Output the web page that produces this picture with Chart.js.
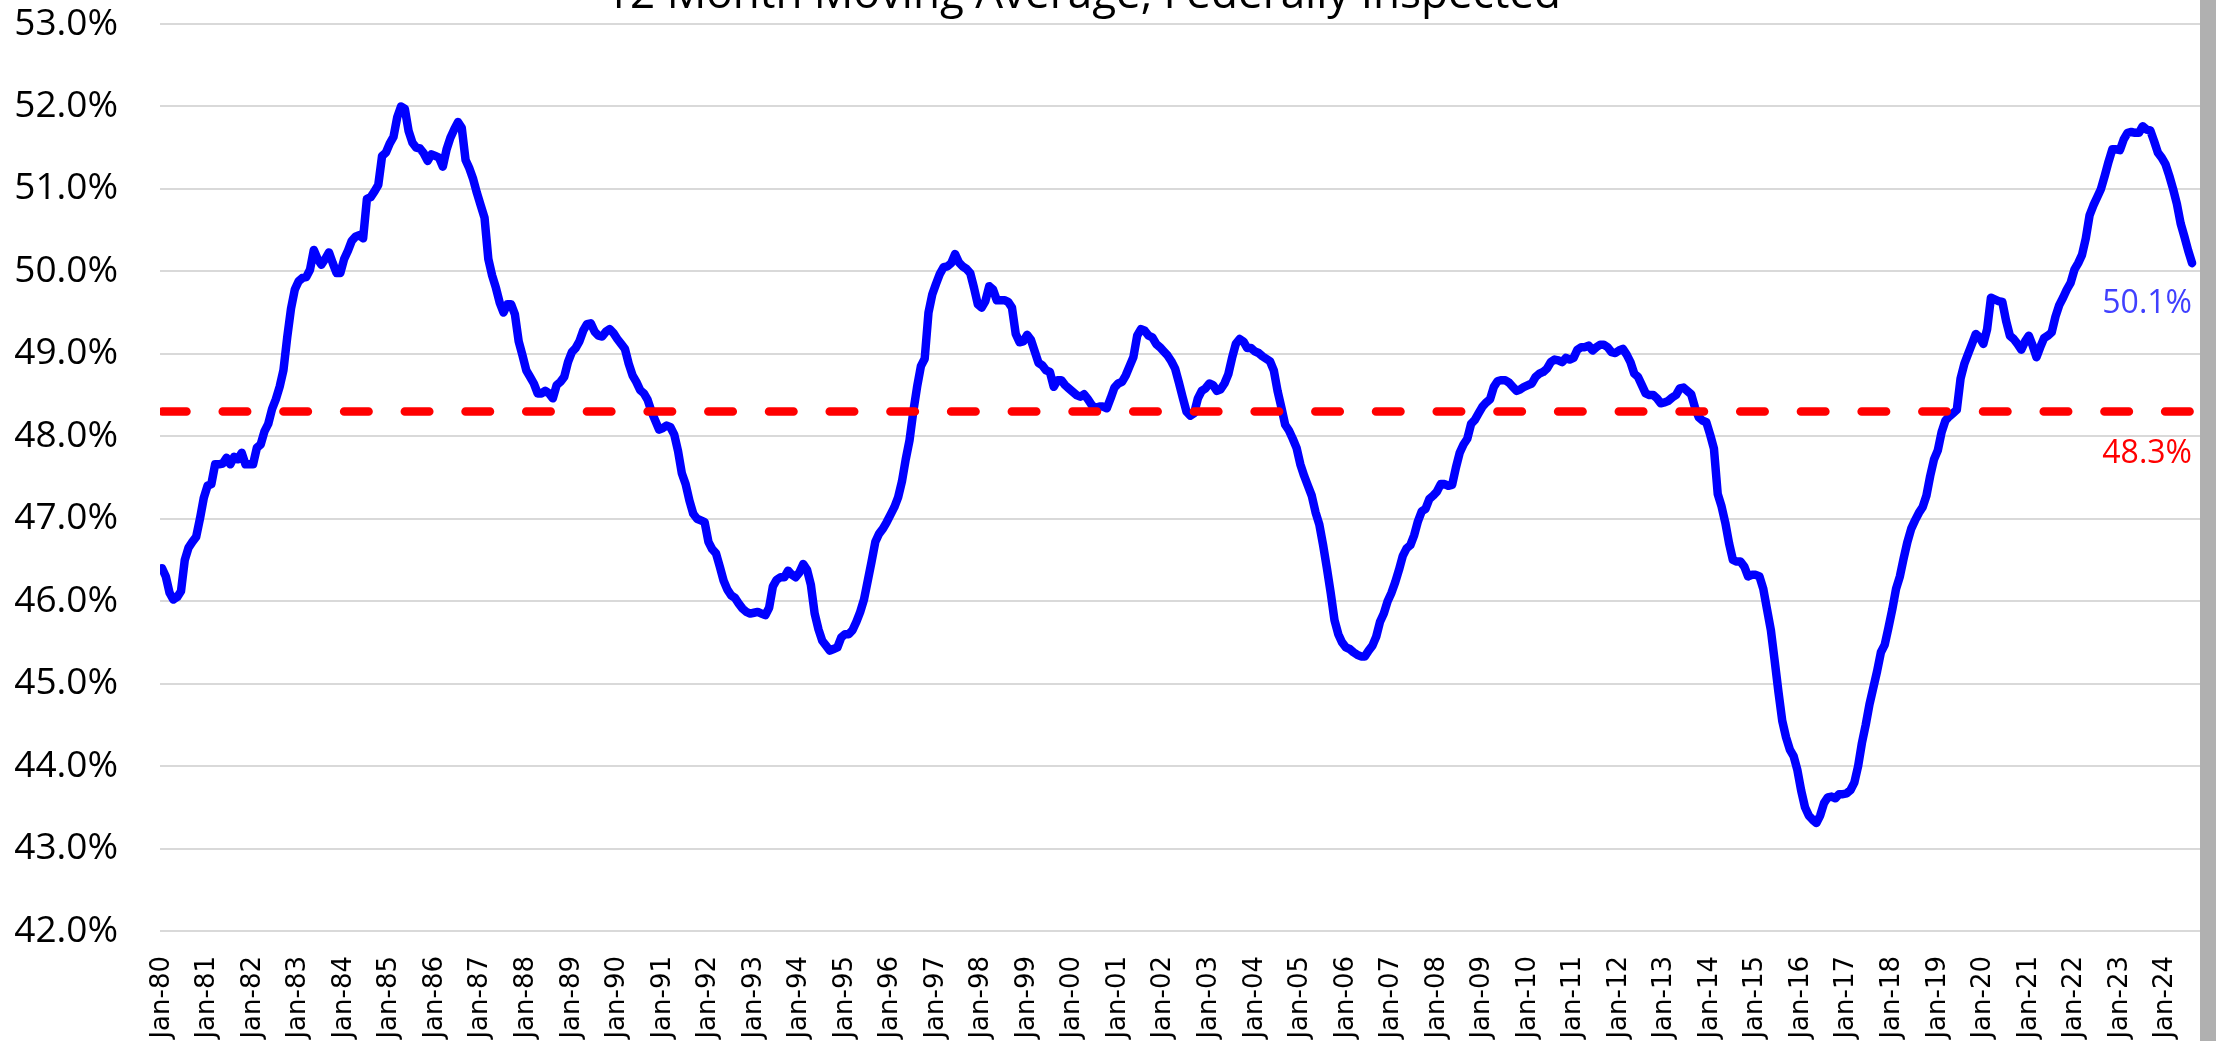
<!DOCTYPE html>
<html>
<head>
<meta charset="utf-8">
<script src="https://cdn.jsdelivr.net/npm/chart.js@4.4.1/dist/chart.umd.min.js"></script>
<style>
  html, body { margin: 0; padding: 0; background: #ffffff; overflow: hidden; }
  #wrap { position: absolute; left: 0; top: 0; width: 2200px; height: 1041px; }
  #edge { position: absolute; left: 2200px; top: 0; width: 16px; height: 1041px; background: #b0b0b0; }
</style>
</head>
<body>
<div id="wrap"><canvas id="chart" width="2200" height="1041"></canvas></div>
<div id="edge"></div>
<script>
// 12-month moving average share, monthly from Jan-1980 (percent)
const chartTitle = '12 Month Moving Average, Federally Inspected';

const tickLabels = [
  'Jan-80','Jan-81','Jan-82','Jan-83','Jan-84','Jan-85','Jan-86','Jan-87','Jan-88','Jan-89',
  'Jan-90','Jan-91','Jan-92','Jan-93','Jan-94','Jan-95','Jan-96','Jan-97','Jan-98','Jan-99',
  'Jan-00','Jan-01','Jan-02','Jan-03','Jan-04','Jan-05','Jan-06','Jan-07','Jan-08','Jan-09',
  'Jan-10','Jan-11','Jan-12','Jan-13','Jan-14','Jan-15','Jan-16','Jan-17','Jan-18','Jan-19',
  'Jan-20','Jan-21','Jan-22','Jan-23','Jan-24'
];

const share1980s = [
  46.40,46.30,46.10,46.02,46.05,46.12,46.50,46.65,46.72,46.78,47.00,47.25,
  47.40,47.42,47.66,47.66,47.67,47.74,47.66,47.75,47.72,47.80,47.66,47.66,
  47.66,47.86,47.90,48.06,48.15,48.33,48.45,48.60,48.80,49.20,49.55,49.78,
  49.88,49.92,49.93,50.02,50.26,50.15,50.08,50.15,50.23,50.10,49.98,49.98,
  50.15,50.25,50.37,50.42,50.44,50.40,50.88,50.90,50.97,51.05,51.40,51.44,
  51.55,51.63,51.87,52.00,51.97,51.70,51.56,51.50,51.49,51.43,51.34,51.42,
  51.40,51.38,51.27,51.48,51.62,51.72,51.81,51.74,51.35,51.25,51.12,50.95,
  50.80,50.65,50.15,49.95,49.80,49.62,49.50,49.60,49.60,49.48,49.15,48.98,
  48.80,48.72,48.64,48.52,48.52,48.55,48.52,48.46,48.62,48.66,48.72,48.90,
  49.02,49.07,49.15,49.28,49.36,49.37,49.27,49.22,49.21,49.27,49.30,49.25
];

const share1990s = [
  49.18,49.12,49.06,48.88,48.74,48.66,48.56,48.52,48.44,48.30,48.19,48.08,
  48.10,48.13,48.11,48.02,47.82,47.55,47.42,47.22,47.06,47.00,46.98,46.96,
  46.72,46.63,46.58,46.42,46.25,46.14,46.07,46.04,45.97,45.91,45.87,45.85,
  45.86,45.87,45.85,45.83,45.92,46.18,46.26,46.29,46.29,46.37,46.32,46.29,
  46.35,46.45,46.38,46.20,45.85,45.66,45.52,45.46,45.40,45.42,45.44,45.56,
  45.60,45.60,45.65,45.75,45.87,46.02,46.25,46.48,46.72,46.82,46.88,46.96,
  47.05,47.14,47.26,47.45,47.72,47.95,48.30,48.60,48.85,48.94,49.50,49.72,
  49.85,49.97,50.05,50.06,50.10,50.21,50.11,50.06,50.03,49.98,49.80,49.60,
  49.56,49.64,49.82,49.78,49.65,49.65,49.65,49.63,49.56,49.24,49.14,49.15,
  49.23,49.17,49.03,48.89,48.86,48.80,48.78,48.60,48.68,48.68,48.62,48.58
];

const share2000s = [
  48.54,48.50,48.48,48.51,48.45,48.38,48.34,48.36,48.36,48.34,48.46,48.59,
  48.64,48.66,48.74,48.85,48.96,49.22,49.30,49.28,49.22,49.20,49.12,49.08,
  49.03,48.98,48.91,48.82,48.65,48.47,48.30,48.25,48.28,48.46,48.55,48.58,
  48.64,48.62,48.55,48.57,48.64,48.75,48.95,49.12,49.18,49.15,49.07,49.07,
  49.03,49.01,48.97,48.94,48.91,48.80,48.55,48.35,48.14,48.07,47.97,47.86,
  47.66,47.52,47.40,47.28,47.08,46.93,46.68,46.40,46.10,45.77,45.60,45.50,
  45.44,45.42,45.38,45.35,45.33,45.33,45.40,45.46,45.57,45.75,45.85,46.00,
  46.10,46.23,46.38,46.55,46.64,46.68,46.80,46.97,47.09,47.12,47.24,47.28,
  47.33,47.42,47.42,47.40,47.41,47.62,47.80,47.90,47.97,48.15,48.20,48.28,
  48.36,48.41,48.45,48.60,48.67,48.68,48.68,48.65,48.60,48.55,48.57,48.60
];

const share2010s = [
  48.62,48.64,48.72,48.76,48.78,48.82,48.90,48.93,48.92,48.90,48.95,48.93,
  48.95,49.05,49.08,49.08,49.10,49.04,49.08,49.11,49.11,49.08,49.02,49.01,
  49.04,49.06,48.99,48.90,48.76,48.72,48.62,48.52,48.50,48.50,48.46,48.40,
  48.41,48.43,48.47,48.50,48.58,48.59,48.55,48.51,48.35,48.23,48.19,48.17,
  48.02,47.85,47.30,47.15,46.95,46.70,46.50,46.48,46.48,46.42,46.30,46.32,
  46.32,46.30,46.15,45.90,45.65,45.28,44.90,44.55,44.35,44.20,44.12,43.95,
  43.70,43.50,43.40,43.35,43.31,43.40,43.55,43.62,43.63,43.61,43.66,43.66,
  43.67,43.71,43.80,44.00,44.28,44.50,44.75,44.95,45.15,45.38,45.47,45.68,
  45.90,46.15,46.30,46.52,46.72,46.88,46.98,47.07,47.14,47.28,47.52,47.72,
  47.83,48.05,48.19,48.24,48.28,48.32,48.70,48.88,49.00,49.12,49.24,49.20
];

const share2020s = [
  49.12,49.30,49.68,49.66,49.64,49.63,49.40,49.22,49.18,49.12,49.05,49.15,
  49.22,49.10,48.96,49.08,49.19,49.22,49.26,49.45,49.59,49.68,49.78,49.86,
  50.02,50.10,50.20,50.40,50.68,50.80,50.90,51.00,51.16,51.33,51.48,51.48,
  51.47,51.60,51.68,51.69,51.68,51.68,51.76,51.72,51.71,51.58,51.44,51.38,
  51.30,51.16,51.00,50.82,50.58,50.42,50.25,50.10
];

// long-run average share
const averageShare = 48.3;

const series = [...share1980s, ...share1990s, ...share2000s, ...share2010s, ...share2020s];
const lastIndex = series.length - 1;
const latestShare = series[lastIndex];
const sharePoints = series.map((v, i) => ({ x: i, y: v }));
const averagePoints = [{ x: 0, y: averageShare }, { x: lastIndex, y: averageShare }];

// title sits at the very top edge of the page, partly above it
const titlePlugin = {
  id: 'topTitle',
  afterDraw(chart) {
    const ctx = chart.ctx;
    ctx.save();
    ctx.font = '44px "Open Sans"';
    ctx.fillStyle = '#000000';
    ctx.textAlign = 'center';
    ctx.textBaseline = 'alphabetic';
    ctx.fillText(chartTitle, 1083, 8);
    ctx.restore();
  }
};

// value tags under the end of each line
const endLabels = {
  id: 'endLabels',
  afterDatasetsDraw(chart) {
    const { ctx, scales: { x, y } } = chart;
    const xr = x.getPixelForValue(lastIndex);
    ctx.save();
    ctx.font = '32px "Open Sans"';
    ctx.textAlign = 'right';
    ctx.textBaseline = 'middle';
    ctx.fillStyle = '#4040ff';
    ctx.fillText(latestShare.toFixed(1) + '%', xr, y.getPixelForValue(latestShare) + 41);
    ctx.fillStyle = '#ff0000';
    ctx.fillText(averageShare.toFixed(1) + '%', xr, y.getPixelForValue(averageShare) + 42);
    ctx.restore();
  }
};

new Chart(document.getElementById('chart'), {
  type: 'line',
  data: {
    datasets: [
      {
        label: 'Average',
        data: averagePoints,
        borderColor: '#ff0000',
        borderWidth: 8.5,
        borderDash: [24.5, 36.2],
        borderCapStyle: 'round',
        pointRadius: 0,
        fill: false
      },
      {
        label: 'Share',
        data: sharePoints,
        borderColor: '#0000ff',
        borderWidth: 8.5,
        borderJoinStyle: 'round',
        borderCapStyle: 'round',
        pointRadius: 0,
        tension: 0,
        fill: false
      }
    ]
  },
  options: {
    responsive: false,
    devicePixelRatio: 1,
    animation: false,
    layout: { padding: { top: 24, left: 0, right: 0, bottom: 0 } },
    plugins: { legend: { display: false }, tooltip: { enabled: false }, title: { display: false } },
    scales: {
      x: {
        type: 'linear',
        min: -0.53,
        max: 537.1,
        grid: { display: false },
        border: { display: false },
        afterBuildTicks(scale) {
          scale.ticks = tickLabels.map((_, k) => ({ value: k * 12 }));
        },
        afterFit(scale) {
          scale.height = 110;
          scale.paddingLeft = 0;
          scale.paddingRight = 0;
        },
        ticks: {
          autoSkip: false,
          minRotation: 90,
          maxRotation: 90,
          padding: 17,
          color: '#000000',
          font: { family: 'DejaVu Sans', size: 26 },
          callback: (v) => tickLabels[Math.round(v / 12)]
        }
      },
      y: {
        min: 42,
        max: 53,
        afterFit(scale) {
          scale.width = 160;
          scale.paddingTop = 0;
          scale.paddingBottom = 0;
        },
        grid: { color: '#d9d9d9', lineWidth: 2, drawTicks: false },
        border: { display: false },
        ticks: {
          stepSize: 1,
          padding: 42,
          color: '#000000',
          font: { family: 'Open Sans', size: 37 },
          callback: (v) => v.toFixed(1) + '%'
        }
      }
    }
  },
  plugins: [titlePlugin, endLabels]
});
</script>
</body>
</html>
